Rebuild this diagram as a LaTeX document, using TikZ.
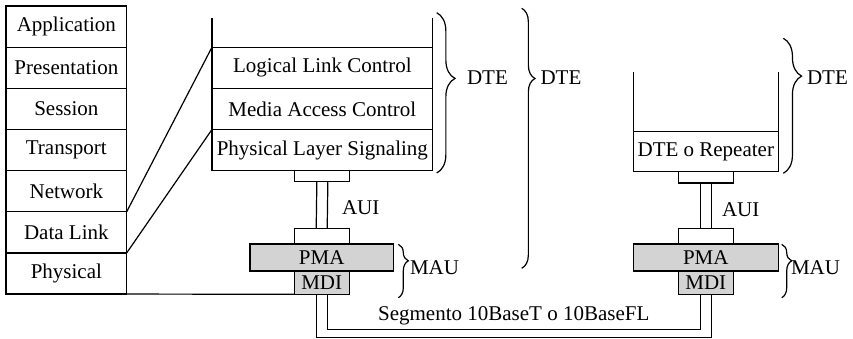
\documentclass[tikz,border=0pt]{standalone}
\usepackage{fontspec}
\setmainfont{Liberation Serif}
\usetikzlibrary{positioning, decorations.pathreplacing}
\definecolor{cgrey}{HTML}{D3D3D3}
\tikzset{
  every picture/.style={line width=1.2pt},
  layer/.style={draw, inner sep=0pt, minimum width=120.7pt, minimum height=41.15pt},
  sublayer/.style={draw, inner sep=0pt, minimum width=220.7pt, minimum height=41.15pt},
  plug/.style={draw, inner sep=0pt, minimum width=55pt, minimum height=#1},
  plug/.default=11.3pt,
  pma/.style={draw, fill=cgrey, inner sep=0pt, minimum width=#1, minimum height=27pt},
  pma/.default=144pt,
  lbl/.style={inner sep=0pt, anchor=west},
  dtebrace/.style 2 args={decorate, decoration={brace, amplitude=#1, aspect=#2}},
}

\begin{document}
\begin{tikzpicture}[x=1pt, y=-1pt, every node/.append style={font=\fontsize{21}{25}\selectfont, outer sep=0pt}]
  \useasboundingbox (0,0) rectangle (853,339);
  % ---------- OSI stack ----------
  \foreach \lname [count=\i] in {Application, Presentation, Session, Transport, Network, Data Link, Physical}
    \node[layer] (osi\i) at (66.35, {6 + 41.15*(\i-0.5)}) {\lname};
  % ---------- station DTE ----------
  \node[sublayer] (llc) at (322.35, 67.725) {Logical Link Control};
  \node[sublayer, below=0pt of llc] (mac) {Media Access Control};
  \node[sublayer, below=0pt of mac] (pls) {Physical Layer Signaling};
  \draw (llc.north west) -- ++(0,-29);
  \draw (llc.north east) -- ++(0,-29);
  \draw (osi5.south east) -- (llc.north west);
  \draw (osi6.south east) -- (pls.north west);
  \node[plug, below=0pt of pls] (auiA) {};
  \node[pma=143.3pt] (pmaA) at (321.7, 257.5) {PMA};
  \node[plug=15.7pt, above=0pt of pmaA] (auiB) {};
  \node[plug=23.3pt, fill=cgrey, below=0pt of pmaA] (mdiA) {MDI};
  \draw ([xshift=-5.5pt]auiA.south) -- ([xshift=-5.5pt]auiB.north);
  \draw ([xshift=5.5pt]auiA.south) -- ([xshift=5.5pt]auiB.north);
  \node[lbl] (auiL) at (342, 208) {AUI};
  \draw (osi7.south east) -- (mdiA.south west);
  % ---------- repeater DTE ----------
  \node[draw, inner sep=0pt, minimum width=145pt, minimum height=40pt] (rep) at (705.8, 151.7) {DTE o Repeater};
  \draw (rep.north west) -- ++(0,-60);
  \draw (rep.north east) -- ++(0,-60);
  \node[plug, below=0pt of rep] (auiC) {};
  \node[pma=145pt] (pmaB) at (705.8, 257.5) {PMA};
  \node[plug=15.7pt, above=0pt of pmaB] (auiD) {};
  \node[plug=23.3pt, fill=cgrey, below=0pt of pmaB] (mdiB) {MDI};
  \draw ([xshift=-5.5pt]auiC.south) -- ([xshift=-5.5pt]auiD.north);
  \draw ([xshift=5.5pt]auiC.south) -- ([xshift=5.5pt]auiD.north);
  \node[lbl] (auiR) at (722, 210) {AUI};
  % ---------- segment ----------
  \draw ([xshift=5.5pt]mdiA.south) -- ++(0,35) -| node[pos=0.25, above=4pt, inner sep=0pt] (seg) {Segmento 10BaseT o 10BaseFL} ([xshift=-5.5pt]mdiB.south);
  \draw ([xshift=-5.5pt]mdiA.south) -- ++(0,43.5) -| ([xshift=5.5pt]mdiB.south);
  % ---------- braces ----------
  \draw[dtebrace={18.3pt}{0.41}] (436.7, 12.7) -- (436.7, 173);
  \node[lbl] (dteA) at (467, 78) {DTE};
  \draw[dtebrace={13.3pt}{0.27}] (521.7, 8.3) -- (521.7, 268.3);
  \node[lbl] (dteB) at (540.5, 78) {DTE};
  \draw[dtebrace={18.3pt}{0.28}] (783.3, 38.3) -- (783.3, 173.3);
  \node[lbl] (dteC) at (807, 78) {DTE};
  \draw[dtebrace={10pt}{0.31}] (398.3, 244.3) -- (398.3, 297.7);
  \node[lbl] (mauA) at (410, 268) {MAU};
  \draw[dtebrace={10pt}{0.31}] (781.7, 244.3) -- (781.7, 297.7);
  \node[lbl] (mauB) at (791, 268) {MAU};
\end{tikzpicture}
\end{document}
